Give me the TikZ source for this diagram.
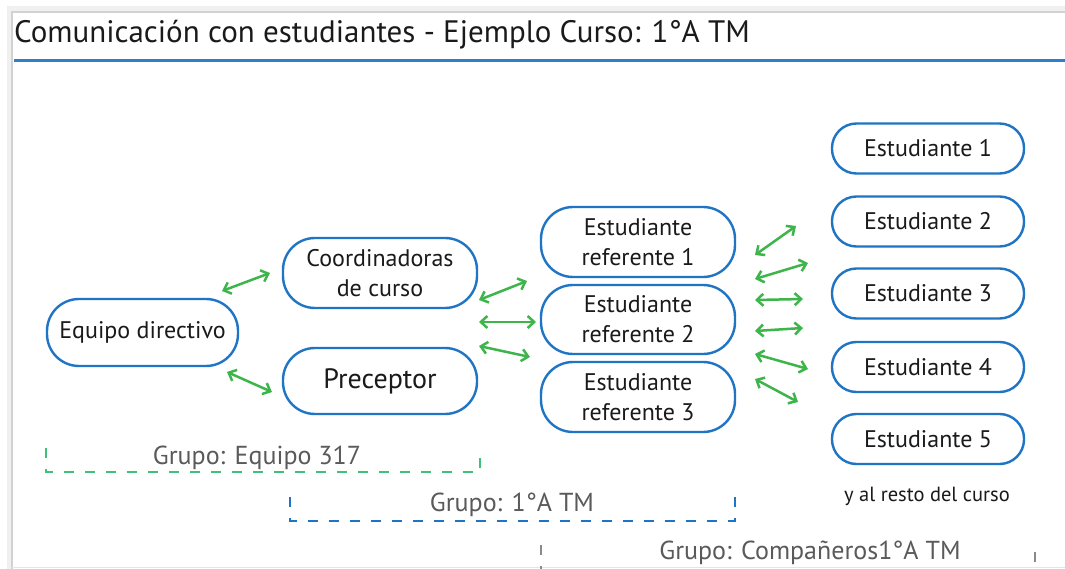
\documentclass[tikz,border=0pt]{standalone}
\usepackage{fontspec}
\setmainfont{PT Sans}
\usetikzlibrary{arrows.meta}
\definecolor{boxblue}{HTML}{1F74C4}
\definecolor{rulblue}{HTML}{2F80CC}
\definecolor{arrgreen}{HTML}{3DB54A}
\definecolor{grpgreen}{HTML}{3CC07A}
\definecolor{grpgray}{HTML}{8A8A8A}
\definecolor{txtdark}{HTML}{1A1A1A}
\definecolor{txtgray}{HTML}{5A5A5A}
\tikzset{
  pill/.style={draw=boxblue, line width=2.4pt, fill=white, rounded corners=32pt,
    align=center, text=txtdark, inner sep=0pt, minimum width=194pt, minimum height=69pt,
    font=\fontsize{24}{30}\selectfont},
  spill/.style={pill, rounded corners=24.5pt, minimum width=192pt, minimum height=50pt},
  link/.style={draw=arrgreen, line width=2.5pt, {Straight Barb[length=6.5pt,width=12pt]}-{Straight Barb[length=6.5pt,width=12pt]}},
  grplabel/.style={text=txtgray, font=\fontsize{26}{30}\selectfont, inner sep=0pt},
  grpline/.style={line width=2pt, dash pattern=on 10pt off 11pt}
}
\begin{document}
\begin{tikzpicture}[x=1pt,y=-1pt]
\useasboundingbox (0,0) rectangle (1065,569);
\fill[white] (0,0) rectangle (1065,569);
% frame with soft shadow
\draw[gray!12, line width=5pt] (9,575) -- (9,9) -- (1075,9);
\draw[gray!35, line width=1.2pt] (12,575) -- (12,12) -- (1075,12);
\draw[gray!20, line width=1pt] (12,567) -- (1075,567);
% title
\node[anchor=base west, inner sep=0pt, text=txtdark, font=\fontsize{31}{35}\selectfont] (title) at (14,43) {Comunicación con estudiantes - Ejemplo Curso: 1°A TM};
\draw[rulblue, line width=3pt] (14,61) -- (1065,61);

% nodes
\node[pill, minimum width=191pt, minimum height=67pt] (equipo) at (142.5,332.5) {Equipo directivo};
\node[pill, minimum height=70pt] (coord) at (380,273) {Coordinadoras\\de curso};
\node[pill, minimum height=66pt, font=\fontsize{28}{30}\selectfont] (precep) at (380,381) {Preceptor};
\node[pill, minimum height=70pt] (ref1) at (638,242) {Estudiante\\referente 1};
\node[pill, minimum height=69pt] (ref2) at (638,319.5) {Estudiante\\referente 2};
\node[pill, minimum height=70pt] (ref3) at (638,397) {Estudiante\\referente 3};
\node[spill] (e1) at (928,148.5) {Estudiante 1};
\node[spill] (e2) at (928,221.5) {Estudiante 2};
\node[spill] (e3) at (928,293.5) {Estudiante 3};
\node[spill] (e4) at (928,367) {Estudiante 4};
\node[spill] (e5) at (928,439) {Estudiante 5};
\node[text=txtdark, font=\fontsize{20.5}{24}\selectfont, inner sep=0pt] (resto) at (927,496) {y al resto del curso};

% arrow end points
\coordinate (a1s) at (222,291); \coordinate (a1e) at (270,273);
\coordinate (a2s) at (227,372); \coordinate (a2e) at (272,392);
\coordinate (b1s) at (479,300); \coordinate (b1e) at (527,281);
\coordinate (b2s) at (479,322); \coordinate (b2e) at (536,322);
\coordinate (b3s) at (479,346); \coordinate (b3e) at (530,357);
\coordinate (c1s) at (755,255); \coordinate (c1e) at (796,226);
\coordinate (c2s) at (755,279); \coordinate (c2e) at (808,263);
\coordinate (c3s) at (755,300); \coordinate (c3e) at (803,299);
\coordinate (c4s) at (755,331); \coordinate (c4e) at (803,328);
\coordinate (c5s) at (755,354); \coordinate (c5e) at (808,369);
\coordinate (c6s) at (755,379); \coordinate (c6e) at (798,402);
\foreach \p in {a1,a2,b1,b2,b3,c1,c2,c3,c4,c5,c6}
  \draw[link] (\p s) -- (\p e);

% groups
\draw[grpline, draw=grpgreen] (46,448) -- (46,472) -- (480,472) -- (480,448);
\node[grplabel] (g1) at (257,458) {Grupo: Equipo 317};
\draw[grpline, draw=boxblue] (290,497) -- (290,521) -- (735,521) -- (735,497);
\node[grplabel] (g2) at (512,505) {Grupo: 1°A TM};
\draw[grpline, draw=grpgray] (541,545) -- (541,590) -- (1035,590) -- (1035,545);
\node[grplabel] (g3) at (810,553) {Grupo: Compañeros1°A TM};
\end{tikzpicture}
\end{document}
